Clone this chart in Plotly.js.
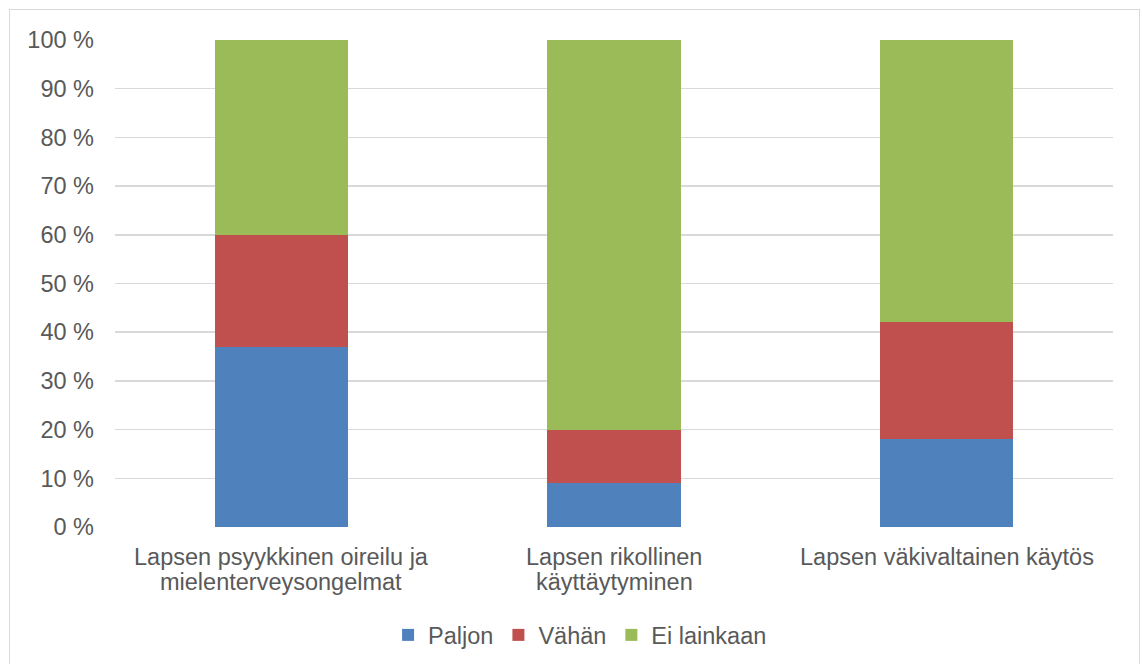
<!DOCTYPE html>
<html>
<head>
<meta charset="utf-8">
<script src="https://cdn.plot.ly/plotly-3.0.1.min.js"></script>
<style>
html,body{margin:0;padding:0;background:#fff;overflow:hidden;}
#frame{position:absolute;left:9px;top:9px;width:1131px;height:700px;border:1px solid #d9d9d9;box-sizing:border-box;}
#chart{position:absolute;left:0;top:0;width:1142px;height:664px;}
</style>
</head>
<body>
<div id="frame"></div>
<div id="chart"></div>
<script>
const categories = [
  "Lapsen psyykkinen oireilu ja\nmielenterveysongelmat",
  "Lapsen rikollinen\nkäyttäytyminen",
  "Lapsen väkivaltainen käytös"
];
const paljon = [37, 9, 18];
const vahan = [23, 11, 24];
const eiLainkaan = [40, 80, 58];
const yTicks = [0,10,20,30,40,50,60,70,80,90,100];
const yTickLabels = yTicks.map(v => v + " %");

const font = {family: "Liberation Sans, Arial, sans-serif", size: 23.5, color: "#595959"};
const traces = [
  {name: "Paljon", y: paljon, color: "#4F81BD"},
  {name: "Vähän", y: vahan, color: "#C0504D"},
  {name: "Ei lainkaan", y: eiLainkaan, color: "#9BBB59"}
].map(s => ({
  type: "bar", x: categories, y: s.y, name: s.name,
  marker: {color: s.color, line: {width: 0}},
  hoverinfo: "none"
}));

const annotations = [];
categories.forEach(c => {
  c.split("\n").forEach((line, i) => {
    annotations.push({
      x: c, xref: "x", y: 0, yref: "paper", yanchor: "middle", xanchor: "center",
      yshift: -30 - 25 * i, text: line, showarrow: false, font: font
    });
  });
});

const layout = {
  width: 1142, height: 664,
  margin: {l: 115, r: 29, t: 40, b: 137, autoexpand: false},
  paper_bgcolor: "rgba(0,0,0,0)", plot_bgcolor: "rgba(0,0,0,0)",
  barmode: "stack", bargap: 0.6,
  font: font,
  xaxis: {showgrid: false, showline: false, zeroline: false, ticks: "", showticklabels: false},
  yaxis: {range: [0, 100], tickvals: yTicks, ticktext: yTickLabels, showgrid: true, gridcolor: "#d9d9d9", gridwidth: 1.5,
          zeroline: false, showline: false, ticks: "", ticklabelstandoff: 20, tickfont: font, automargin: false},
  legend: {orientation: "h", x: 0.466, xanchor: "center", y: -0.222, yanchor: "middle", font: font, traceorder: "normal", itemwidth: 30},
  annotations: annotations,
  showlegend: true
};
Plotly.newPlot("chart", traces, layout, {displayModeBar: false, staticPlot: true});
</script>
</body>
</html>
